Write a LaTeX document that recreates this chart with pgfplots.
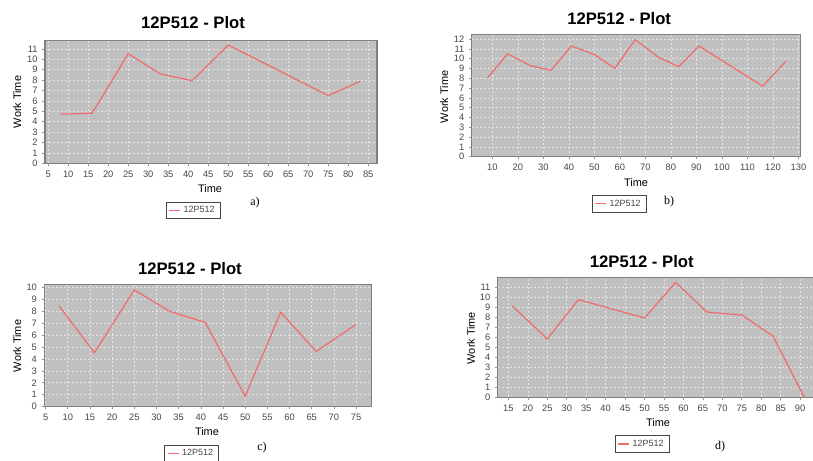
\documentclass[border=0pt]{standalone}
\usepackage{fontspec}
\setmainfont{Liberation Sans}
\newfontfamily\seriffont{Liberation Serif}
\usepackage{pgfplots}
\pgfplotsset{compat=1.18}
\definecolor{bggray}{RGB}{192,192,192}
\definecolor{bordergray}{RGB}{128,128,128}
\definecolor{gridc}{RGB}{228,228,228}
\definecolor{tickgray}{RGB}{150,150,150}
\definecolor{labgray}{RGB}{70,70,70}
\definecolor{linered}{RGB}{240,108,108}
\definecolor{legdraw}{RGB}{70,70,70}
\pgfplotsset{
  /pgf/number format/assume math mode=true,
  every axis title shift=0pt,
  jf/.style={
    scale only axis, anchor=south west,
    axis background/.style={fill=bggray},
    axis line style={draw=bordergray, line width=1.1pt},
    grid=major, major grid style={draw=gridc, dash pattern=on 1.5pt off 1.5pt, line width=0.5pt},
    tick align=outside, tick pos=left, major tick length=2pt,
    tick style={draw=tickgray, line width=0.5pt},
    ticklabel style={font=\fontsize{7}{8}\selectfont, text=labgray},
    ymin=0,
    title style={font=\fontsize{12.5}{14}\selectfont\bfseries, anchor=center},
    label style={font=\fontsize{8.2}{10}\selectfont},
    xlabel={Time}, ylabel={Work Time},
    title={12P512 - Plot},
    legend style={anchor=center, draw=legdraw, line width=0.6pt, fill=white,
      font=\fontsize{6.75}{8}\selectfont, text=labgray, inner xsep=2pt, inner ysep=1pt},
    legend image code/.code={\draw[draw=linered, line width=0.8pt] (0pt,0pt) -- (8.25pt,0pt);},
  },
  jfline/.style={color=linered, line width=0.9pt, mark=none},
}
\begin{document}
\begin{tikzpicture}
\useasboundingbox (0pt,0pt) rectangle (609.75pt,345pt);
% a
\begin{axis}[jf, at={(33.75pt,222.5pt)}, width=249pt, height=92pt,
  xmin=4.2, xmax=87.2, ymax=11.8,
  xtick={5,10,...,85}, ytick={0,...,11},
  title style={at={(axis description cs:0.446,1.144)}},
  xlabel style={at={(axis description cs:0.497,-0.21)}, anchor=center},
  ylabel style={at={(axis description cs:-0.084,0.5)}, anchor=center},
  legend style={at={(axis description cs:0.446,-0.385)}}]
\addplot[jfline] coordinates {(8,4.73)(16,4.82)(25,10.55)(33,8.6)(41,7.95)(50,11.38)(75,6.52)(83,7.88)};
\addlegendentry{12P512}
\end{axis}
% b
\begin{axis}[jf, at={(353.8pt,227.5pt)}, width=246.75pt, height=91.8pt,
  xmin=1.9, xmax=130.9, ymax=12.5,
  xtick={10,20,...,130}, ytick={0,...,12},
  title style={at={(axis description cs:0.448,1.125)}},
  xlabel style={at={(axis description cs:0.4995,-0.215)}, anchor=center},
  ylabel style={at={(axis description cs:-0.084,0.488)}, anchor=center},
  legend style={at={(axis description cs:0.448,-0.386)}}]
\addplot[jfline] coordinates {(8,8.03)(16,10.5)(25,9.28)(33,8.82)(41,11.3)(50,10.42)(58,9.02)(66,11.95)(75,10.17)(83,9.18)(91,11.3)(116,7.2)(125,9.72)};
\addlegendentry{12P512}
\end{axis}
% c
\begin{axis}[jf, at={(33.2pt,40pt)}, width=245.5pt, height=91.8pt,
  xmin=4.7, xmax=78.5, ymax=10.25,
  xtick={5,10,...,75}, ytick={0,...,10},
  title style={at={(axis description cs:0.445,1.125)}},
  xlabel style={at={(axis description cs:0.497,-0.207)}, anchor=center},
  ylabel style={at={(axis description cs:-0.083,0.496)}, anchor=center},
  legend style={at={(axis description cs:0.45,-0.382)}}]
\addplot[jfline] coordinates {(8,8.45)(16,4.52)(25,9.78)(33,7.98)(41,7.05)(50,0.87)(58,7.9)(66,4.63)(75,6.88)};
\addlegendentry{12P512}
\end{axis}
% d
\begin{axis}[jf, at={(373.3pt,47pt)}, width=238.5pt, height=90pt,
  xmin=12.26, xmax=94, ymax=12,
  xtick={15,20,...,90}, ytick={0,...,11},
  title style={at={(axis description cs:0.453,1.13)}},
  xlabel style={at={(axis description cs:0.504,-0.214)}, anchor=center},
  ylabel style={at={(axis description cs:-0.084,0.494)}, anchor=center},
  legend style={at={(axis description cs:0.454,-0.389)}}]
\addplot[jfline] coordinates {(16,9.13)(25,5.83)(33,9.77)(50,7.93)(58,11.5)(66,8.53)(75,8.23)(83,6.13)(91,0.05)};
\addlegendentry{12P512}
\end{axis}
\node[font=\seriffont\fontsize{9}{10}\selectfont] at (191.25pt,192.75pt) {a)};
\node[font=\seriffont\fontsize{9}{10}\selectfont] at (501.75pt,193.5pt) {b)};
\node[font=\seriffont\fontsize{9}{10}\selectfont] at (196.5pt,9pt) {c)};
\node[font=\seriffont\fontsize{9}{10}\selectfont] at (540pt,9.75pt) {d)};
\end{tikzpicture}
\end{document}
